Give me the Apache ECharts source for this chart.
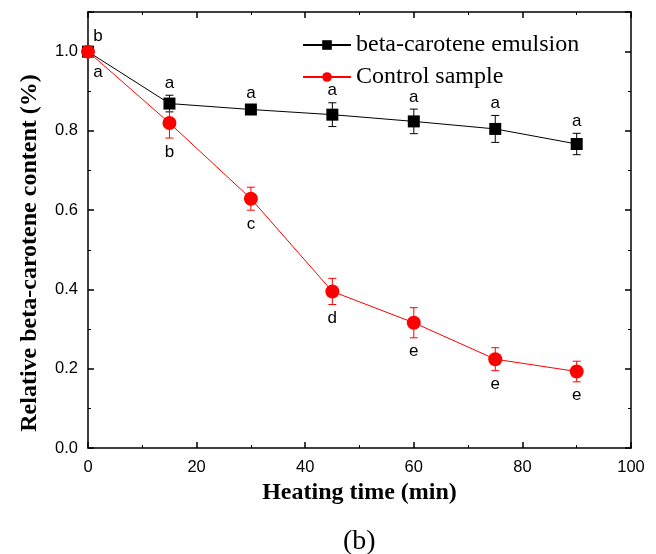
<!DOCTYPE html>
<html>
<head>
<meta charset="utf-8">
<script src="https://cdn.jsdelivr.net/npm/echarts@6/dist/echarts.min.js"></script>
<style>
    html, body { margin: 0; padding: 0; background: #fff; }
    #chart { width: 656px; height: 554px; }
</style>
</head>
<body>
<div id="chart"></div>
<script>
// heating time (min)
var times = [0, 15, 30, 45, 60, 75, 90]
// beta-carotene emulsion
var emulsion = [1.0, 0.869, 0.854, 0.841, 0.824, 0.805, 0.767]
var emulsionErr = [0, 0.021, 0.011, 0.03, 0.031, 0.034, 0.027]
var emulsionLetters = ['b', 'a', 'a', 'a', 'a', 'a', 'a']
// control sample
var control = [1.0, 0.820, 0.629, 0.395, 0.316, 0.224, 0.193]
var controlErr = [0, 0.038, 0.029, 0.033, 0.038, 0.029, 0.026]
var controlLetters = ['a', 'b', 'c', 'd', 'e', 'e', 'e']

var serif = 'Liberation Serif'
var sans = 'Liberation Sans'

function pairs (ys) {
    return times.map(function (t, i) { return [t, ys[i]] })
}

// error bars + letter marks, drawn via axis coords
function errorSeries (ys, errs, letters, color, above) {
    return {
        type: 'custom',
        xAxisIndex: 0,
        yAxisIndex: 0,
        z: 1,
        silent: true,
        data: times.map(function (t, i) { return [t, ys[i], errs[i]] }),
        encode: { x: 0, y: 1 },
        renderItem: function (params, api) {
            var i = params.dataIndex
            var x = api.value(0)
            var y = api.value(1)
            var e = api.value(2)
            var hi = api.coord([x, y + e])
            var lo = api.coord([x, y - e])
            var c = api.coord([x, y])
            var children = []
            if (e > 0) {
                var style = { stroke: color, lineWidth: 1 }
                children.push({ type: 'line', shape: { x1: hi[0], y1: hi[1], x2: lo[0], y2: lo[1] }, style: style })
                children.push({ type: 'line', shape: { x1: hi[0] - 4, y1: hi[1], x2: hi[0] + 4, y2: hi[1] }, style: style })
                children.push({ type: 'line', shape: { x1: lo[0] - 4, y1: lo[1], x2: lo[0] + 4, y2: lo[1] }, style: style })
            }
            var tx = c[0]
            var ty
            if (i === 0) {
                tx = c[0] + 10
                ty = above ? c[1] - 15 : c[1] + 21
            } else {
                ty = above ? hi[1] - 12 : lo[1] + 14
            }
            children.push({
                type: 'text',
                style: {
                    text: letters[i],
                    x: tx,
                    y: ty,
                    fill: '#000',
                    font: '17px ' + sans,
                    align: 'center',
                    verticalAlign: 'middle'
                }
            })
            return { type: 'group', children: children }
        }
    }
}

var chart = echarts.init(document.getElementById('chart'))

var tickStyle = { show: true, inside: true, length: 6, lineStyle: { color: '#000', width: 1.5 } }
var minorStyle = { show: true, splitNumber: 2, length: 3, lineStyle: { color: '#000', width: 1 } }
var lineStyle = { show: true, onZero: false, lineStyle: { color: '#000', width: 1.5 } }

chart.setOption({
    animation: false,
    backgroundColor: '#fff',
    grid: { left: 88, right: 25, top: 12, bottom: 106 },
    legend: {
        orient: 'vertical',
        left: 297,
        top: 28,
        itemGap: 8,
        itemWidth: 48,
        itemHeight: 12,
        textStyle: { fontFamily: serif, fontSize: 24, color: '#000' },
        data: ['beta-carotene emulsion', 'Control sample']
    },
    graphic: [{
        type: 'text',
        left: 343,
        top: 528,
        style: { text: '(b)', font: '28px ' + serif, fill: '#000' }
    }],
    xAxis: [{
        type: 'value',
        min: 0,
        max: 100,
        interval: 20,
        name: 'Heating time (min)',
        nameLocation: 'middle',
        nameGap: 32,
        nameTextStyle: { fontFamily: serif, fontWeight: 'bold', fontSize: 24, color: '#000' },
        axisLine: lineStyle,
        axisTick: tickStyle,
        minorTick: minorStyle,
        splitLine: { show: false },
        axisLabel: { fontFamily: sans, fontSize: 16.5, color: '#000', margin: 11 }
    }, {
        type: 'value',
        position: 'top',
        min: 0,
        max: 100,
        interval: 20,
        axisLine: lineStyle,
        axisTick: tickStyle,
        minorTick: minorStyle,
        splitLine: { show: false },
        axisLabel: { show: false }
    }],
    yAxis: [{
        type: 'value',
        min: 0,
        max: 1.1,
        interval: 0.2,
        name: 'Relative beta-carotene content (%)',
        nameLocation: 'middle',
        nameGap: 46,
        nameTextStyle: {
            fontFamily: serif,
            fontWeight: 'bold',
            fontSize: 24,
            color: '#000',
            padding: [0, 46, 0, 0]
        },
        axisLine: lineStyle,
        axisTick: tickStyle,
        minorTick: minorStyle,
        splitLine: { show: false },
        axisLabel: {
            fontFamily: sans,
            fontSize: 16.5,
            color: '#000',
            margin: 10,
            showMaxLabel: false,
            formatter: function (v) { return v.toFixed(1) }
        }
    }, {
        type: 'value',
        position: 'right',
        min: 0,
        max: 1.1,
        interval: 0.2,
        axisLine: lineStyle,
        axisTick: tickStyle,
        minorTick: minorStyle,
        splitLine: { show: false },
        axisLabel: { show: false }
    }],
    series: [
        errorSeries(emulsion, emulsionErr, emulsionLetters, '#000', true),
        errorSeries(control, controlErr, controlLetters, '#ff0000', false),
        {
            name: 'beta-carotene emulsion',
            type: 'line',
            z: 3,
            data: pairs(emulsion),
            symbol: 'rect',
            symbolSize: 12,
            itemStyle: { color: '#000' },
            lineStyle: { color: '#000', width: 1 }
        },
        {
            name: 'Control sample',
            type: 'line',
            z: 4,
            data: pairs(control),
            symbol: 'circle',
            symbolSize: 14,
            itemStyle: { color: '#ff0000' },
            lineStyle: { color: '#ff0000', width: 1 }
        }
    ]
})
</script>
</body>
</html>
